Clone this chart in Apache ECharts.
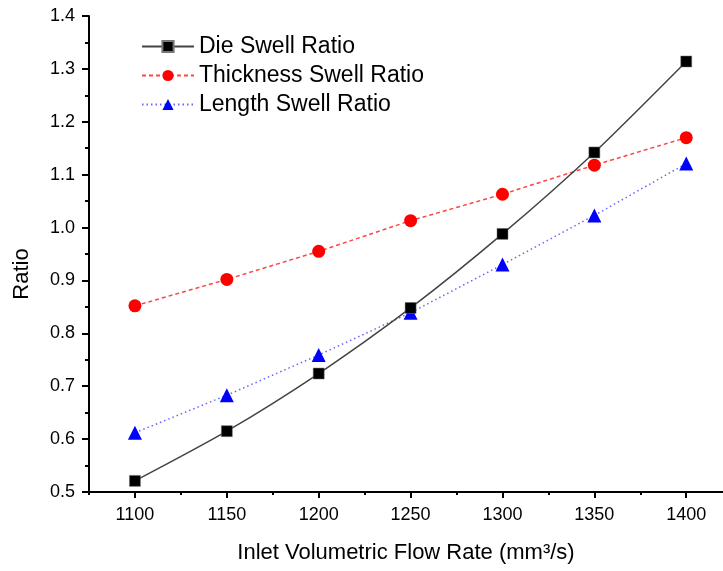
<!DOCTYPE html>
<html>
<head>
<meta charset="utf-8">
<script src="https://cdn.jsdelivr.net/npm/echarts@6/dist/echarts.min.js"></script>
<style>html,body{margin:0;padding:0;background:#fff;}#c{width:723px;height:571px;}</style>
</head>
<body>
<div id="c"></div>
<script>
var flowRates = [1100, 1150, 1200, 1250, 1300, 1350, 1400];
var dieSwell = [0.521, 0.615, 0.724, 0.848, 0.988, 1.142, 1.314];
var thicknessSwell = [0.852, 0.902, 0.955, 1.013, 1.063, 1.118, 1.170];
var lengthSwell = [0.612, 0.683, 0.759, 0.839, 0.930, 1.023, 1.121];
var xMajorTicks = [1100, 1150, 1200, 1250, 1300, 1350, 1400];
var xMinorTicks = [1075, 1125, 1175, 1225, 1275, 1325, 1375];

function pairs(ys) { return flowRates.map(function (x, i) { return [x, ys[i]]; }); }

var font = 'Liberation Sans, Arial, sans-serif';
var chart = echarts.init(document.getElementById('c'), null, { renderer: 'canvas' });
chart.setOption({
  animation: false,
  backgroundColor: '#fff',
  grid: { left: 89, top: 16, right: 0, bottom: 79 },
  legend: {
    orient: 'vertical', left: 136, top: 30,
    itemWidth: 52, itemHeight: 14, itemGap: 6,
    textStyle: { fontFamily: font, fontSize: 23, color: '#000' },
    data: ['Die Swell Ratio', 'Thickness Swell Ratio', 'Length Swell Ratio']
  },
  xAxis: [{
    type: 'value', min: 1075, max: 1420,
    name: 'Inlet Volumetric Flow Rate (mm\u00B3/s)', nameLocation: 'middle', nameGap: 50,
    nameTextStyle: { fontFamily: font, fontSize: 22, color: '#000' },
    axisLine: { show: true, lineStyle: { color: '#000', width: 2 } },
    axisTick: { show: true, customValues: xMajorTicks, length: 6, lineStyle: { color: '#000', width: 2 } },
    axisLabel: { customValues: xMajorTicks, fontFamily: font, fontSize: 18, color: '#000', margin: 14,
      formatter: function (v) { return String(v); } },
    splitLine: { show: false }
  }, {
    type: 'value', min: 1075, max: 1420, position: 'bottom',
    axisLine: { show: false },
    axisTick: { show: true, customValues: xMinorTicks, length: 3, lineStyle: { color: '#000', width: 2 } },
    axisLabel: { show: false },
    splitLine: { show: false }
  }],
  yAxis: {
    type: 'value', min: 0.5, max: 1.4, interval: 0.1,
    name: 'Ratio', nameLocation: 'middle', nameGap: 56,
    nameTextStyle: { fontFamily: font, fontSize: 22, color: '#000', padding: [0, 40, 0, 0] },
    axisLine: { show: true, lineStyle: { color: '#000', width: 2 } },
    axisTick: { show: true, length: 7, lineStyle: { color: '#000', width: 2 } },
    minorTick: { show: true, splitNumber: 2, length: 4, lineStyle: { color: '#000', width: 2 } },
    axisLabel: { fontFamily: font, fontSize: 18, color: '#000', margin: 14,
      formatter: function (v) { return v.toFixed(1); } },
    splitLine: { show: false }
  },
  series: [{
    name: 'Die Swell Ratio', type: 'line', data: pairs(dieSwell), smooth: 0.25,
    symbol: 'rect', symbolSize: 11,
    itemStyle: { color: '#000', borderColor: '#777', borderWidth: 0.5 },
    lineStyle: { color: '#444', width: 1.5, type: 'solid' }, z: 3
  }, {
    name: 'Thickness Swell Ratio', type: 'line', data: pairs(thicknessSwell),
    symbol: 'circle', symbolSize: 13,
    itemStyle: { color: '#ff0000' },
    lineStyle: { color: '#ff4444', width: 1.5, type: [4, 3] }, z: 2
  }, {
    name: 'Length Swell Ratio', type: 'line', data: pairs(lengthSwell),
    symbol: 'triangle', symbolSize: 14,
    itemStyle: { color: '#0000ff' },
    lineStyle: { color: '#6666ff', width: 1.5, type: [1.5, 3] }, z: 2
  }]
});
</script>
</body>
</html>
